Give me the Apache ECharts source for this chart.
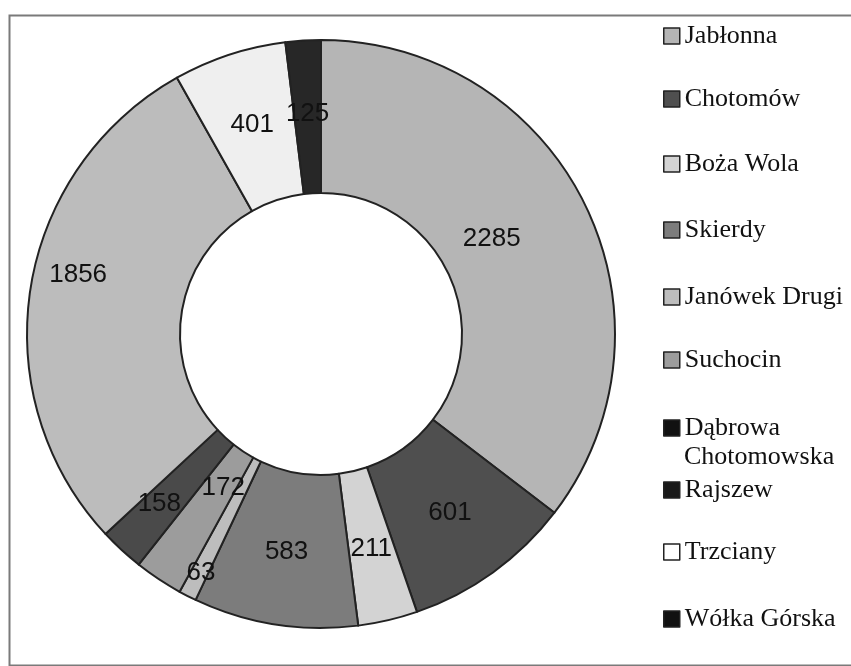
<!DOCTYPE html>
<html>
<head>
<meta charset="utf-8">
<script src="https://cdn.jsdelivr.net/npm/echarts@6/dist/echarts.min.js"></script>
<style>
html,body{margin:0;padding:0;background:#ffffff;}
#chart{width:851px;height:666px;}
</style>
</head>
<body>
<div id="chart"></div>
<script>
var categories = ['Jabłonna','Chotomów','Boża Wola','Skierdy','Janówek Drugi','Suchocin','Dąbrowa Chotomowska','Rajszew','Trzciany','Wółka Górska'];
var values = [2285, 601, 211, 583, 63, 172, 158, 1856, 401, 125];
var sliceColors = ['#b5b5b5','#4f4f4f','#d3d3d3','#7c7c7c','#bdbdbd','#9c9c9c','#4a4a4a','#bcbcbc','#efefef','#272727'];
var legendIconColors = ['#b5b5b5','#4f4f4f','#d3d3d3','#7c7c7c','#bdbdbd','#9c9c9c','#111111','#1a1a1a','#ffffff','#111111'];

var legendCenters = [36, 99, 164, 230, 297, 360, 428, 490, 552, 619];
var labelShift = {0: [-27, 2], 4: [-20, 42], 5: [24, -30], 6: [-12, 8], 7: [-25, -25]};

var chart = echarts.init(document.getElementById('chart'));

var legends = categories.map(function (name, i) {
  return {
    data: [{name: name, itemStyle: {color: legendIconColors[i], borderColor: '#222', borderWidth: 1.5}}],
    orient: 'vertical',
    left: 663,
    top: legendCenters[i] - 13,
    padding: 0,
    icon: 'rect',
    itemWidth: 16,
    itemHeight: 16,
    selectedMode: false,
    formatter: function (n) { return n === 'Dąbrowa Chotomowska' ? 'Dąbrowa' : n; },
    textStyle: {fontFamily: 'Liberation Serif', fontSize: 26, lineHeight: 26, color: '#111'}
  };
});

chart.setOption({
  backgroundColor: '#ffffff',
  animation: false,
  color: sliceColors,
  legend: legends,
  graphic: [
    {type: 'rect', left: 7, top: 13, shape: {width: 860, height: 650}, style: {fill: 'none', stroke: '#7a7a7a', lineWidth: 2}},
    {type: 'text', left: 684, top: 444, style: {text: 'Chotomowska', font: '26px "Liberation Serif"', fill: '#111'}}
  ],
  series: [{
    type: 'pie',
    center: [321, 334],
    radius: [141, 294],
    startAngle: 90,
    clockwise: true,
    avoidLabelOverlap: false,
    itemStyle: {borderColor: '#222', borderWidth: 2},
    label: {show: true, position: 'inside', formatter: '{c}', fontFamily: 'Liberation Sans', fontSize: 26, color: '#111'},
    labelLayout: function (p) {
      var s = labelShift[p.dataIndex];
      return s ? {dx: s[0], dy: s[1]} : {};
    },
    emphasis: {disabled: true},
    data: categories.map(function (n, i) { return {name: n, value: values[i]}; })
  }]
});
</script>
</body>
</html>
